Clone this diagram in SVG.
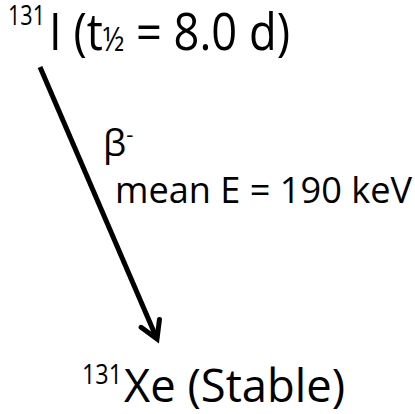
<svg xmlns="http://www.w3.org/2000/svg" width="415" height="414" viewBox="0 0 415 414">
<style>
text{font-family:"Open Sans","Noto Sans","Liberation Sans",sans-serif;fill:#000}
.big{font-size:52px}
.bot{font-size:45px}
.sup{font-size:27px}
.lab{font-size:37px}
.conn{stroke:#000;stroke-width:5;fill:none}
</style>
<defs>
<marker id="head" markerUnits="userSpaceOnUse" markerWidth="40" markerHeight="40" refX="0" refY="0" viewBox="-25 -20 30 40" orient="auto" overflow="visible">
<path d="M-17,-10 L0,0 L-17,10" fill="none" stroke="#000" stroke-width="5" stroke-linejoin="miter" stroke-linecap="round"/>
</marker>
</defs>
<rect width="415" height="414" fill="#fff"/>
<g id="parent">
<text x="8" y="25" class="sup" textLength="37" lengthAdjust="spacingAndGlyphs">131</text>
<text x="49" y="50" class="big" textLength="241" lengthAdjust="spacingAndGlyphs">I (t<tspan font-size="32px" dy="1">½</tspan><tspan dy="-1"> = 8.0 d)</tspan></text>
</g>
<g id="connectors">
<line class="conn" x1="40" y1="67" x2="157" y2="339" marker-end="url(#head)"/>
<text x="103" y="156" class="lab">β<tspan font-size="22px" dy="-14">-</tspan></text>
<text x="115" y="203" class="lab" textLength="297" lengthAdjust="spacingAndGlyphs">mean E = 190 keV</text>
</g>
<g id="daughter">
<text x="82" y="384" class="sup" textLength="40" lengthAdjust="spacingAndGlyphs">131</text>
<text x="124" y="402" class="bot" textLength="221" lengthAdjust="spacingAndGlyphs">Xe (Stable)</text>
</g>
</svg>
